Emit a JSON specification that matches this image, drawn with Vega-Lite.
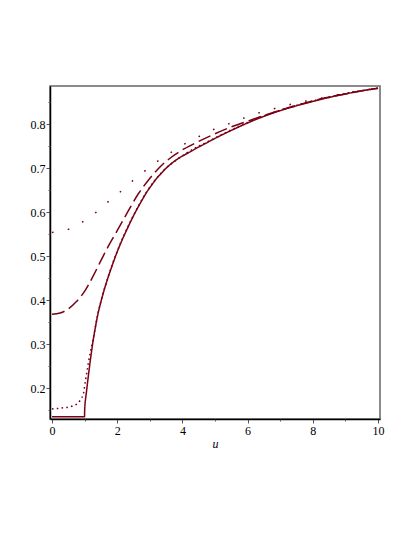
{
  "$schema": "https://vega.github.io/schema/vega-lite/v6.json",
  "width": 330,
  "height": 333,
  "autosize": {"type": "none"},
  "padding": {"left": 50, "top": 86, "right": 35, "bottom": 118},
  "background": "white",
  "config": {
    "view": {"stroke": "#666666", "strokeWidth": 1.5},
    "font": "Liberation Serif, DejaVu Serif, serif",
    "axis": {
      "labelFont": "Liberation Serif, DejaVu Serif, serif",
      "labelFontSize": 12,
      "labelColor": "black",
      "titleFont": "Liberation Serif, DejaVu Serif, serif",
      "titleFontSize": 12,
      "titleFontWeight": "normal",
      "titleFontStyle": "italic",
      "titleColor": "black",
      "domainColor": "black",
      "domainWidth": 1.5,
      "tickColor": "#555555",
      "grid": false
    }
  },
  "datasets": {
    "curves": [
      {"s": "solid", "u": 0, "v": 0.1353},
      {"s": "solid", "u": 0.5, "v": 0.1353},
      {"s": "solid", "u": 1.0, "v": 0.1353},
      {"s": "solid", "u": 1.002, "v": 0.148},
      {"s": "solid", "u": 1.01, "v": 0.16},
      {"s": "solid", "u": 1.03, "v": 0.175},
      {"s": "solid", "u": 1.06, "v": 0.193},
      {"s": "solid", "u": 1.1, "v": 0.218},
      {"s": "solid", "u": 1.15, "v": 0.248},
      {"s": "solid", "u": 1.2, "v": 0.276},
      {"s": "solid", "u": 1.25, "v": 0.302},
      {"s": "solid", "u": 1.3, "v": 0.325},
      {"s": "solid", "u": 1.35, "v": 0.346},
      {"s": "solid", "u": 1.4, "v": 0.365},
      {"s": "solid", "u": 1.5, "v": 0.396},
      {"s": "solid", "u": 1.6, "v": 0.423},
      {"s": "solid", "u": 1.7, "v": 0.447},
      {"s": "solid", "u": 1.8, "v": 0.469},
      {"s": "solid", "u": 1.9, "v": 0.49},
      {"s": "solid", "u": 2.0, "v": 0.51},
      {"s": "solid", "u": 2.1, "v": 0.528},
      {"s": "solid", "u": 2.2, "v": 0.545},
      {"s": "solid", "u": 2.3, "v": 0.561},
      {"s": "solid", "u": 2.44, "v": 0.583},
      {"s": "solid", "u": 2.6, "v": 0.606},
      {"s": "solid", "u": 2.75, "v": 0.626},
      {"s": "solid", "u": 2.9, "v": 0.645},
      {"s": "solid", "u": 3.06, "v": 0.662},
      {"s": "solid", "u": 3.2, "v": 0.676},
      {"s": "solid", "u": 3.36, "v": 0.689},
      {"s": "solid", "u": 3.5, "v": 0.7},
      {"s": "solid", "u": 3.67, "v": 0.711},
      {"s": "solid", "u": 3.85, "v": 0.721},
      {"s": "solid", "u": 4.08, "v": 0.731},
      {"s": "solid", "u": 4.3, "v": 0.74},
      {"s": "solid", "u": 4.49, "v": 0.748},
      {"s": "solid", "u": 4.7, "v": 0.756},
      {"s": "solid", "u": 4.95, "v": 0.766},
      {"s": "solid", "u": 5.3, "v": 0.779},
      {"s": "solid", "u": 5.67, "v": 0.792},
      {"s": "solid", "u": 6.0, "v": 0.803},
      {"s": "solid", "u": 6.5, "v": 0.818},
      {"s": "solid", "u": 7.0, "v": 0.831},
      {"s": "solid", "u": 7.5, "v": 0.842},
      {"s": "solid", "u": 8.0, "v": 0.852},
      {"s": "solid", "u": 8.5, "v": 0.861},
      {"s": "solid", "u": 9.0, "v": 0.869},
      {"s": "solid", "u": 9.5, "v": 0.876},
      {"s": "solid", "u": 10.0, "v": 0.882},

      {"s": "dashed", "u": 0, "v": 0.368},
      {"s": "dashed", "u": 0.25, "v": 0.371},
      {"s": "dashed", "u": 0.5, "v": 0.38},
      {"s": "dashed", "u": 0.75, "v": 0.397},
      {"s": "dashed", "u": 1.0, "v": 0.42},
      {"s": "dashed", "u": 1.25, "v": 0.453},
      {"s": "dashed", "u": 1.5, "v": 0.49},
      {"s": "dashed", "u": 1.75, "v": 0.526},
      {"s": "dashed", "u": 2.0, "v": 0.558},
      {"s": "dashed", "u": 2.34, "v": 0.603},
      {"s": "dashed", "u": 2.65, "v": 0.642},
      {"s": "dashed", "u": 2.95, "v": 0.672},
      {"s": "dashed", "u": 3.26, "v": 0.699},
      {"s": "dashed", "u": 3.57, "v": 0.72},
      {"s": "dashed", "u": 3.98, "v": 0.741},
      {"s": "dashed", "u": 4.39, "v": 0.757},
      {"s": "dashed", "u": 4.9, "v": 0.775},
      {"s": "dashed", "u": 5.5, "v": 0.794},
      {"s": "dashed", "u": 6.0, "v": 0.807},
      {"s": "dashed", "u": 6.5, "v": 0.82},
      {"s": "dashed", "u": 7.0, "v": 0.832},
      {"s": "dashed", "u": 7.5, "v": 0.843},
      {"s": "dashed", "u": 8.0, "v": 0.853},
      {"s": "dashed", "u": 8.5, "v": 0.862},
      {"s": "dashed", "u": 9.0, "v": 0.869},
      {"s": "dashed", "u": 9.5, "v": 0.876},
      {"s": "dashed", "u": 10.0, "v": 0.882},

      {"s": "dotupper", "u": 0, "v": 0.554},
      {"s": "dotupper", "u": 0.5, "v": 0.561},
      {"s": "dotupper", "u": 0.94, "v": 0.578},
      {"s": "dotupper", "u": 1.34, "v": 0.599},
      {"s": "dotupper", "u": 1.71, "v": 0.623},
      {"s": "dotupper", "u": 2.09, "v": 0.646},
      {"s": "dotupper", "u": 2.45, "v": 0.67},
      {"s": "dotupper", "u": 2.83, "v": 0.693},
      {"s": "dotupper", "u": 3.22, "v": 0.715},
      {"s": "dotupper", "u": 3.63, "v": 0.735},
      {"s": "dotupper", "u": 4.06, "v": 0.755},
      {"s": "dotupper", "u": 4.5, "v": 0.772},
      {"s": "dotupper", "u": 4.95, "v": 0.788},
      {"s": "dotupper", "u": 5.39, "v": 0.8},
      {"s": "dotupper", "u": 5.85, "v": 0.813},
      {"s": "dotupper", "u": 6.31, "v": 0.825},
      {"s": "dotupper", "u": 6.79, "v": 0.835},
      {"s": "dotupper", "u": 7.25, "v": 0.844},
      {"s": "dotupper", "u": 7.74, "v": 0.852},
      {"s": "dotupper", "u": 8.22, "v": 0.859},
      {"s": "dotupper", "u": 8.68, "v": 0.866},
      {"s": "dotupper", "u": 9.19, "v": 0.873},
      {"s": "dotupper", "u": 9.6, "v": 0.878},
      {"s": "dotupper", "u": 10.0, "v": 0.882},

      {"s": "dotlower", "u": 0, "v": 0.153},
      {"s": "dotlower", "u": 0.3, "v": 0.155},
      {"s": "dotlower", "u": 0.6, "v": 0.159},
      {"s": "dotlower", "u": 0.8, "v": 0.166},
      {"s": "dotlower", "u": 0.9, "v": 0.177},
      {"s": "dotlower", "u": 0.95, "v": 0.184},
      {"s": "dotlower", "u": 0.98, "v": 0.193},
      {"s": "dotlower", "u": 1.0, "v": 0.204},
      {"s": "dotlower", "u": 1.04, "v": 0.223},
      {"s": "dotlower", "u": 1.08, "v": 0.241},
      {"s": "dotlower", "u": 1.12, "v": 0.259},
      {"s": "dotlower", "u": 1.17, "v": 0.279},
      {"s": "dotlower", "u": 1.22, "v": 0.296},
      {"s": "dotlower", "u": 1.3, "v": 0.326},
      {"s": "dotlower", "u": 1.4, "v": 0.366},
      {"s": "dotlower", "u": 1.5, "v": 0.397},
      {"s": "dotlower", "u": 1.7, "v": 0.448},
      {"s": "dotlower", "u": 2.0, "v": 0.511},
      {"s": "dotlower", "u": 2.44, "v": 0.584},
      {"s": "dotlower", "u": 2.9, "v": 0.646},
      {"s": "dotlower", "u": 3.36, "v": 0.69},
      {"s": "dotlower", "u": 4.08, "v": 0.732},
      {"s": "dotlower", "u": 4.95, "v": 0.767},
      {"s": "dotlower", "u": 6.0, "v": 0.804},
      {"s": "dotlower", "u": 7.0, "v": 0.832},
      {"s": "dotlower", "u": 8.0, "v": 0.853},
      {"s": "dotlower", "u": 9.0, "v": 0.87},
      {"s": "dotlower", "u": 10.0, "v": 0.882}
    ]
  },
  "data": {"name": "curves"},
  "resolve": {"axis": {"x": "independent", "y": "independent"}},
  "layer": [
    {
      "mark": {"type": "line", "color": "#7a0016", "strokeWidth": 1.5, "interpolate": "monotone", "clip": true},
      "encoding": {
        "x": {
          "field": "u", "type": "quantitative",
          "scale": {"domain": [-0.06, 10.06], "nice": false, "zero": false},
          "axis": {"orient": "bottom", "values": [0, 2, 4, 6, 8, 10], "title": "u", "tickSize": 4, "labelPadding": 2, "titlePadding": 2, "format": "d"}
        },
        "y": {
          "field": "v", "type": "quantitative",
          "scale": {"domain": [0.13, 0.887], "nice": false, "zero": false},
          "axis": {"orient": "left", "values": [0.2, 0.3, 0.4, 0.5, 0.6, 0.7, 0.8], "title": null, "tickSize": 4, "labelPadding": 1, "format": ".1f"}
        },
        "detail": {"field": "s"},
        "strokeDash": {
          "field": "s", "type": "nominal", "legend": null,
          "scale": {"domain": ["solid", "dashed", "dotupper", "dotlower"], "range": [[1, 0], [13, 5], [1.6, 14.5], [1.6, 3.2]]}
        }
      }
    },
    {
      "mark": {"type": "line", "opacity": 0},
      "encoding": {
        "x": {
          "field": "u", "type": "quantitative",
          "axis": {"orient": "bottom", "values": [1, 3, 5, 7, 9], "labels": false, "title": null, "tickSize": 2, "domain": false}
        },
        "y": {
          "field": "v", "type": "quantitative",
          "axis": {"orient": "left", "values": [0.15, 0.25, 0.35, 0.45, 0.55, 0.65, 0.75, 0.85], "labels": false, "title": null, "tickSize": 2, "domain": false}
        },
        "detail": {"field": "s"}
      }
    }
  ]
}
